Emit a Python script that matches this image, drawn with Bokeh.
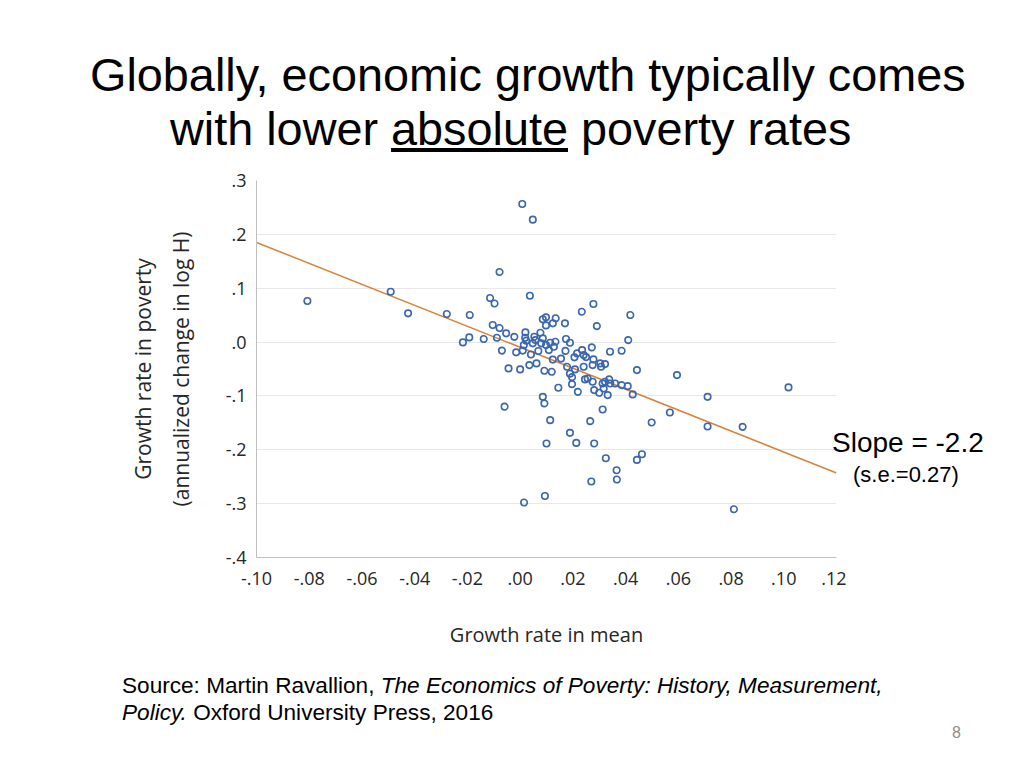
from bokeh.plotting import figure
from bokeh.models import Range1d, FixedTicker, ColumnDataSource, Div, Title
from bokeh.layouts import column, row
from bokeh.embed import file_html
from bokeh.resources import INLINE

# ---------------- data ----------------
growth_mean = [
    0.0008, 0.0048, -0.0807, -0.0491, -0.0425, -0.0278, -0.0191, -0.0078, -0.0114, -0.0097,
    0.0037, -0.0104, -0.0078, -0.0053, -0.0217, -0.0193, -0.0138, -0.0088, -0.0022, -0.0069,
    -0.0015, 0.0020, 0.0019, 0.0023, 0.0014, 0.0010, 0.0054, 0.0048, 0.0058, 0.0077,
    0.0086, 0.0080, 0.0069, 0.0041, 0.0086, 0.0098, 0.0098, 0.0124, 0.0135, 0.0170,
    0.0098, 0.0114, 0.0109, 0.0134, 0.0128, 0.0174, 0.0189, 0.0172, 0.0124, 0.0155,
    0.0278, 0.0234, 0.0418, 0.0291, 0.0410, 0.0216, 0.0235, 0.0272, 0.0341, 0.0385,
    0.0241, 0.0250, 0.0206, 0.0278, -0.0044, 0.0000, 0.0035, 0.0062, 0.0092, 0.0120,
    0.0178, 0.0189, 0.0197, 0.0145, 0.0086, 0.0092, -0.0059, 0.0208, 0.0241, 0.0304,
    0.0322, 0.0307, 0.0275, 0.0197, 0.0443, 0.0246, 0.0256, 0.0275, 0.0313, 0.0322,
    0.0338, 0.0342, 0.0360, 0.0385, 0.0408, 0.0281, 0.0300, 0.0317, 0.0332, 0.0219,
    0.0427, 0.0313, 0.0114, 0.0266, 0.0189, 0.0100, 0.0213, 0.0281, 0.0325, 0.0366,
    0.0367, 0.0270, 0.0443, 0.0462, 0.0015, 0.0094, 0.0811, 0.0499, 0.0568, 0.0711,
    0.0711, 0.0844, 0.1018, 0.0595,
]
growth_poverty = [
    0.2565, 0.2273, 0.0762, 0.0935, 0.0533, 0.0520, 0.0502, 0.1301, 0.0818, 0.0716,
    0.0861, 0.0316, 0.0260, 0.0162, -0.0006, 0.0087, 0.0056, 0.0080, 0.0097, -0.0158,
    -0.0191, 0.0180, 0.0080, 0.0024, -0.0056, -0.0158, 0.0099, -0.0024, 0.0037, 0.0173,
    0.0069, -0.0024, -0.0167, -0.0232, 0.0422, 0.0459, 0.0310, 0.0348, 0.0441, 0.0348,
    -0.0056, -0.0013, -0.0149, 0.0006, -0.0087, 0.0056, -0.0013, -0.0164, -0.0325, -0.0307,
    0.0706, 0.0563, 0.0502, 0.0297, 0.0037, -0.0210, -0.0149, -0.0099, -0.0180, -0.0162,
    -0.0242, -0.0279, -0.0284, -0.0322, -0.0489, -0.0507, -0.0428, -0.0396, -0.0533, -0.0552,
    -0.0459, -0.0586, -0.0781, -0.0849, -0.1017, -0.1139, -0.1199, -0.0507, -0.0459, -0.0396,
    -0.0409, -0.0459, -0.0428, -0.0651, -0.0520, -0.0693, -0.0675, -0.0738, -0.0768, -0.0738,
    -0.0693, -0.0768, -0.0768, -0.0799, -0.0818, -0.0892, -0.0942, -0.0861, -0.0985, -0.0924,
    -0.0972, -0.1251, -0.1450, -0.1468, -0.1686, -0.1883, -0.1872, -0.1883, -0.2156, -0.2379,
    -0.2552, -0.2589, -0.2188, -0.2082, -0.2980, -0.2857, -0.3104, -0.1493, -0.1307, -0.1017,
    -0.1567, -0.1574, -0.0842, -0.0613,
]
fit_x = [-0.10, 0.12]
fit_y = [0.185, -0.243]

x_ticks = [-0.10, -0.08, -0.06, -0.04, -0.02, 0.0, 0.02, 0.04, 0.06, 0.08, 0.10, 0.12]
x_tick_labels = ["-.10", "-.08", "-.06", "-.04", "-.02", ".00", ".02", ".04", ".06", ".08", ".10", ".12"]
y_ticks = [-0.4, -0.3, -0.2, -0.1, 0.0, 0.1, 0.2, 0.3]
y_tick_labels = ["-.4", "-.3", "-.2", "-.1", ".0", ".1", ".2", ".3"]

title_line1 = "Globally, economic growth typically comes"
title_line2_pre, title_line2_u, title_line2_post = "with lower ", "absolute", " poverty rates"
x_title = "Growth rate in mean"
y_title1 = "Growth rate in poverty"
y_title2 = "(annualized change in log H)"
slope_text = "Slope = -2.2"
se_text = "(s.e.=0.27)"
source_plain = "Source: Martin Ravallion, "
source_book1 = "The Economics of Poverty: History, Measurement,"
source_book2 = "Policy."
source_pub = " Oxford University Press, 2016"
page_no = "8"

# ---------------- layout sizes ----------------
TOTAL_W = 1000
TOP_H = 160
FIG_TOP = 20                     # frame top sits at TOP_H + FIG_TOP = 180
FIG_W, FIG_H = 846, 497
RIGHT_W = TOTAL_W - FIG_W
BOTTOM_H = 93
TF = "'Liberation Sans', Arial, Helvetica, sans-serif"
TICK_FONT = "Open Sans"


def abs_text(left, top, size, html, extra=""):
    return (f'<div style="position:absolute;left:{left}px;top:{top}px;font-size:{size}px;'
            f'line-height:1;white-space:nowrap;{extra}">{html}</div>')


def box(w, h, inner):
    return (f'<div style="position:relative;width:{w}px;height:{h}px;overflow:visible;'
            f'font-family:{TF};color:#000;">{inner}</div>')


# ---------------- title ----------------
top_html = box(TOTAL_W, TOP_H,
               abs_text(90, 52, 46.8, title_line1) +
               abs_text(170, 106, 46.8, f"{title_line2_pre}<u>{title_line2_u}</u>{title_line2_post}"))
top_div = Div(text=top_html, width=TOTAL_W, height=TOP_H, margin=0)

# ---------------- figure ----------------
p = figure(width=FIG_W, height=FIG_H, x_range=Range1d(-0.10, 0.12), y_range=Range1d(-0.4, 0.3),
           output_backend="svg", toolbar_location=None,
           min_border_left=256, min_border_right=FIG_W - 836, min_border_top=FIG_TOP,
           min_border_bottom=FIG_H - FIG_TOP - 377, margin=0)
p.outline_line_color = None
p.background_fill_color = "white"
p.border_fill_color = "white"

for ax in (p.xaxis[0], p.yaxis[0]):
    ax.axis_line_color = "#bfbfbf"
    ax.axis_line_width = 1
    ax.major_tick_line_color = None
    ax.minor_tick_line_color = None
    ax.major_tick_in = 0
    ax.major_tick_out = 0
    ax.minor_tick_in = 0
    ax.minor_tick_out = 0
    ax.major_label_text_font = TICK_FONT
    ax.major_label_text_font_size = "18px"
    ax.major_label_text_color = "#262626"
    ax.axis_label_text_font = TICK_FONT
    ax.axis_label_text_font_style = "normal"
    ax.axis_label_text_color = "#262626"

p.xaxis.ticker = FixedTicker(ticks=x_ticks)
p.xaxis.major_label_overrides = dict(zip(x_ticks, x_tick_labels))
p.xaxis.major_label_standoff = 14
p.xaxis.axis_label = x_title
p.xaxis.axis_label_text_font_size = "20px"
p.xaxis.axis_label_standoff = 33

p.yaxis.ticker = FixedTicker(ticks=y_ticks)
p.yaxis.major_label_overrides = dict(zip(y_ticks, y_tick_labels))
p.yaxis.major_label_standoff = 10
p.yaxis.axis_label = y_title2
p.yaxis.axis_label_text_font_size = "21px"
p.yaxis.axis_label_standoff = 28

outer_title = Title(text=y_title1, align="center", text_font=TICK_FONT, text_font_size="21px",
                    text_font_style="normal", text_color="#262626", standoff=14)
p.add_layout(outer_title, "left")

p.xgrid.visible = False
p.ygrid.grid_line_color = "#e8e8e8"
p.ygrid.grid_line_width = 1

p.line(fit_x, fit_y, line_color="#d9823b", line_width=1.5)
src = ColumnDataSource(dict(x=growth_mean, y=growth_poverty))
p.scatter("x", "y", source=src, marker="circle", size=6.5, fill_color=None,
          line_color="#3a67ad", line_width=1.6)

# ---------------- slope note (right of plot) ----------------
rt = TOP_H  # page y of the right column's top
right_html = box(RIGHT_W, FIG_H,
                 abs_text(-14, 429 - rt, 28, slope_text) +
                 abs_text(7, 464 - rt, 22, se_text))
right_div = Div(text=right_html, width=RIGHT_W, height=FIG_H, margin=0,
                styles={"overflow": "visible"})

# ---------------- source ----------------
bt = TOP_H + FIG_H  # page y of the bottom block's top
bottom_html = box(TOTAL_W, BOTTOM_H,
                  abs_text(122, 675 - bt, 22.6, f"{source_plain}<i>{source_book1}</i>") +
                  abs_text(122, 702 - bt, 22.6, f"<i>{source_book2}</i>{source_pub}") +
                  abs_text(952, 725 - bt, 16, page_no, "color:#8c8c8c;"))
bottom_div = Div(text=bottom_html, width=TOTAL_W, height=BOTTOM_H, margin=0)

layout = column(top_div, row(p, right_div, spacing=0, margin=0), bottom_div, spacing=0, margin=0)

open("out.html", "w").write(file_html(layout, INLINE))
